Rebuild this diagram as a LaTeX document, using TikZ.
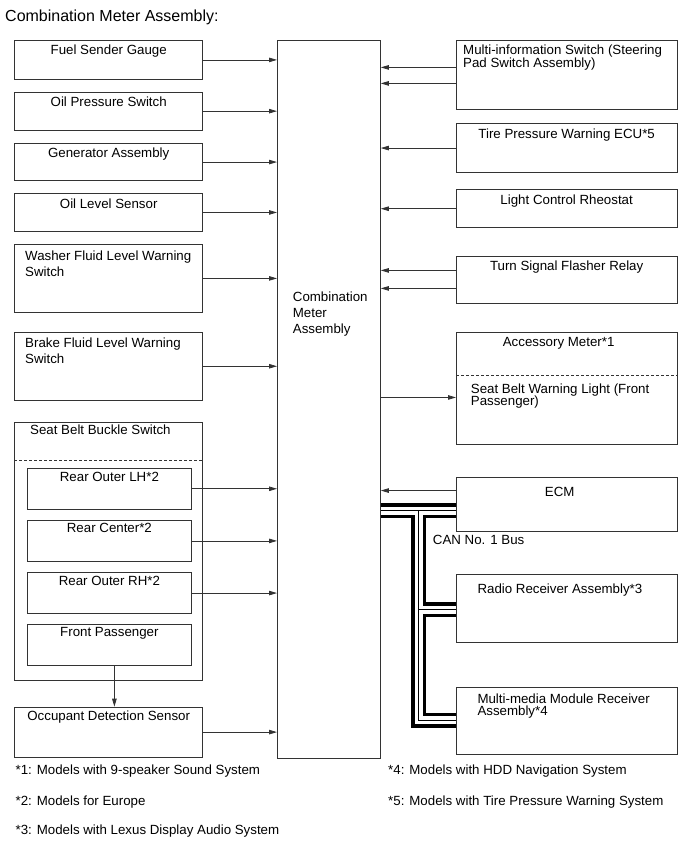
\documentclass[tikz,border=0pt]{standalone}
\usepackage{fontspec}
\setmainfont{Liberation Sans}
\usetikzlibrary{arrows.meta}

\begin{document}
\begin{tikzpicture}[x=1pt,y=-1pt,font=\fontsize{13.3}{16}\selectfont,
    >={Triangle[length=8pt,width=4.5pt]}]
    \tikzset{
        part/.style={
            draw=black!80,line width=0.8pt,
            anchor=north west,inner sep=0pt
        },
        sensor/.style={part,minimum width=188pt},
        buckle/.style={part,minimum width=163.4pt},
        module/.style={part,minimum width=220.5pt},
        head/.style 2 args={
            label={[anchor=north,inner sep=0pt,yshift=-#1pt,align=center]north:#2}
        },
        headl/.style n args={4}{
            label={[anchor=north west,inner sep=0pt,xshift=#1pt,yshift=-#2pt,align=left,#3]north west:#4}
        },
        tight/.style={font=\fontsize{13.3}{12.5}\selectfont},
        flow/.style={->,draw=black!80,line width=0.8pt},
        split/.style={draw=black!80,line width=0.8pt,dash pattern=on 3pt off 2pt},
        canbus/.style={
            draw,line width=0.8pt,
            preaction={draw,line width=15pt},
            preaction={draw=white,line width=8pt}
        },
        note/.style={anchor=base west,inner sep=0pt}
    }
    \useasboundingbox (0,0) rectangle (690,854);

    \node[note,font=\fontsize{16}{19}\selectfont] (heading) at (5,21.5)
        {Combination Meter Assembly:};

    \node[sensor,minimum height=39pt,head={5}{Fuel Sender Gauge}] (fuel) at (14.3,40) {};
    \node[sensor,minimum height=37.5pt,head={5}{Oil Pressure Switch}] (oilp) at (14.3,92) {};
    \node[sensor,minimum height=37.3pt,head={4.5}{Generator Assembly}] (gen) at (14.3,143) {};
    \node[sensor,minimum height=37.5pt,head={5.5}{Oil Level Sensor}] (oill) at (14.3,193.3) {};
    \node[sensor,minimum height=68pt,headl={10.7}{6.5}{}{Washer Fluid Level Warning\\Switch}]
        (washer) at (14.3,244) {};
    \node[sensor,minimum height=68.3pt,headl={10.7}{5.6}{}{Brake Fluid Level Warning\\Switch}]
        (brake) at (14.3,331.7) {};

    \node[sensor,minimum height=258.3pt,headl={15.7}{2.7}{}{Seat Belt Buckle Switch}]
        (belt) at (14.3,421.7) {};
    \draw[split] ([yshift=-38.6pt]belt.north west) -- ([yshift=-38.6pt]belt.north east);
    \node[buckle,minimum height=41.3pt,head={4}{Rear Outer LH*2}] (rlh) at (27.3,467.7) {};
    \node[buckle,minimum height=41.6pt,head={3}{Rear Center*2}] (rc) at (27.3,519.7) {};
    \node[buckle,minimum height=41.3pt,head={3.7}{Rear Outer RH*2}] (rrh) at (27.3,572) {};
    \node[buckle,minimum height=41.3pt,head={2.7}{Front Passenger}] (fp) at (27.3,624) {};

    \node[sensor,minimum height=50pt,head={4.3}{Occupant Detection Sensor}] (occ) at (14.3,706.7) {};

    \node[part,minimum width=103pt,minimum height=718pt,
        headl={15.7}{251.5}{}{Combination\\Meter\\Assembly}] (meter) at (277,40) {};

    \node[module,minimum height=69pt,
        headl={7}{5}{tight}{Multi-information Switch (Steering\\Pad Switch Assembly)}]
        (multi) at (456,40) {};
    \node[module,minimum height=48.7pt,head={5}{Tire Pressure Warning ECU*5}] (tire) at (456,123.3) {};
    \node[module,minimum height=38pt,head={5}{Light Control Rheostat}] (light) at (456,189.3) {};
    \node[module,minimum height=47pt,head={5}{Turn Signal Flasher Relay}] (turn) at (456,256) {};
    \node[module,minimum height=112.3pt,
        label={[anchor=north,inner sep=0pt,xshift=-8pt,yshift=-5.6pt]north:Accessory Meter*1},
        headl={14.7}{51.6}{tight}{Seat Belt Warning Light (Front\\Passenger)}]
        (acc) at (456,331.7) {};
    \draw[split] ([yshift=-43.3pt]acc.north west) -- ([yshift=-43.3pt]acc.north east);
    \node[module,minimum height=53.7pt,
        label={[anchor=north,inner sep=0pt,xshift=-7pt,yshift=-9.4pt]north:ECM}]
        (ecm) at (456,477.3) {};
    \node[module,minimum height=68pt,headl={21.3}{9.3}{}{Radio Receiver Assembly*3}]
        (radio) at (456,574) {};
    \node[module,minimum height=67pt,
        headl={21.3}{6.6}{tight}{Multi-media Module Receiver\\Assembly*4}]
        (mmr) at (456,686.7) {};

    \foreach \src in {fuel,oilp,gen,oill,washer,brake,rlh,rc,rrh,occ}{
        \draw[flow] (\src.east) -- (\src.east -| meter.west);
    }
    \foreach \src/\dy in {multi/7.5,multi/-8.5,tire/0,light/0,turn/9.5,turn/-8.5,ecm/14}{
        \draw[flow] ([yshift=\dy pt]\src.west) -- ([yshift=\dy pt]\src.west -| meter.east);
    }
    \draw[flow] ([yshift=-9.2pt]acc.west -| meter.east) -- ([yshift=-9.2pt]acc.west);
    \draw[flow] ([xshift=5pt]fp.south) -- ([xshift=5pt]fp.south |- occ.north);

    \coordinate (bus-top) at (418.5,510.5);
    \coordinate (bus-radio) at (418.5,609.5);
    \coordinate (bus-mmr) at (418.5,720);
    \draw[canbus] (meter.east |- bus-top) -- (ecm.west |- bus-top)
        (bus-top) -- (bus-mmr) -- (mmr.west |- bus-mmr)
        (bus-radio) -- (radio.west |- bus-radio);
    \node[note] (can-name) at (432.7,544.5) {CAN No. 1 Bus};

    \node[note] (fn1) at (15.4,774) {*1: Models with 9-speaker Sound System};
    \node[note] (fn2) at (15.4,805) {*2: Models for Europe};
    \node[note] (fn3) at (15.4,834) {*3: Models with Lexus Display Audio System};
    \node[note] (fn4) at (388,774) {*4: Models with HDD Navigation System};
    \node[note] (fn5) at (388,805) {*5: Models with Tire Pressure Warning System};
\end{tikzpicture}
\end{document}
